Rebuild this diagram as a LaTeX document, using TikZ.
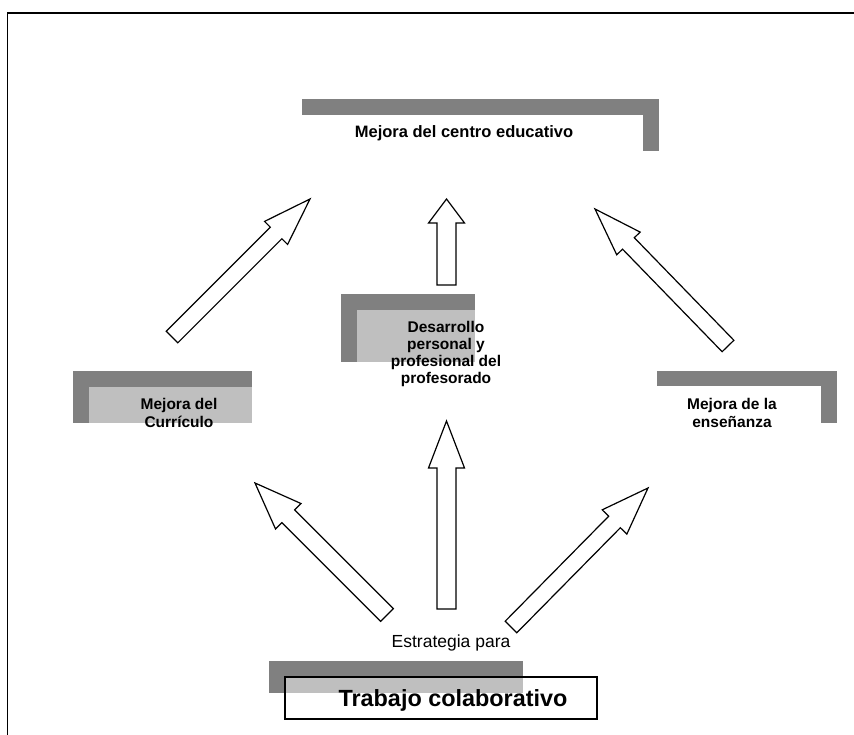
\documentclass[tikz,border=0pt]{standalone}
\usepackage{fontspec}
\setmainfont{Liberation Sans}
\usetikzlibrary{calc}

% block arrow: tail, tip, half shaft width, half head width, head length
\newcommand{\blockarrow}[5]{%
  \coordinate (#2-neck) at ($(#2)!#5!(#1)$);
  \draw[arrowbox] ($(#1)!#3!90:(#2)$) -- ($(#2-neck)!#3!90:(#2)$)
    -- ($(#2-neck)!#4!90:(#2)$) -- (#2) -- ($(#2-neck)!#4!-90:(#2)$)
    -- ($(#2-neck)!#3!-90:(#2)$) -- ($(#1)!#3!-90:(#2)$) -- cycle;
}

\begin{document}
\begin{tikzpicture}[x=1pt, y=-1pt]
    	\colorlet{shadow dark}{black!50}
    	\colorlet{shadow light}{black!25}

    	\tikzset{
    		boxtext/.style={font=\bfseries\fontsize{15.5}{17.3}\selectfont, align=center},
    		arrowbox/.style={draw=black, fill=white, line width=1.2pt, line join=miter},
    	}

    	\useasboundingbox (0,0) rectangle (854,735);
    	\draw[line width=2pt] (7,13) -- (854,13); %frame
    	\draw[line width=1pt] (7,13) -- (7,735);

    	% Mejora del centro educativo
    	\fill[shadow dark] (302,99) rectangle (659,151);
    	\fill[white] (302,115) rectangle (643,152);
    	\node[boxtext, font=\bfseries\fontsize{16.5}{18}\selectfont] (centro) at (464,133) {Mejora del centro educativo};

    	% Desarrollo personal
    	\fill[shadow dark] (341,294) rectangle (475,362);
    	\fill[shadow light] (357,310) rectangle (475,362);
    	\node[boxtext] (desarrollo) at (446,354) {Desarrollo\\personal y\\profesional del\\profesorado};

    	% Curriculo
    	\fill[shadow dark] (73,371) rectangle (252,423);
    	\fill[shadow light] (89,387) rectangle (252,423);
    	\node[boxtext] (curriculo) at (179,413) {Mejora del\\Currículo};

    	% Ensenanza
    	\fill[shadow dark] (657,371) rectangle (837,423);
    	\fill[white] (657,386) rectangle (821,424);
    	\node[boxtext] (ensenanza) at (732,413) {Mejora de la\\enseñanza};

    	% Trabajo colaborativo
    	\node[font=\fontsize{17.5}{19}\selectfont] (estrategia) at (451,643) {Estrategia para};
    	\fill[shadow dark] (269,661) rectangle (523,693);
    	\fill[white] (285,677) rectangle (597,719);
    	\fill[shadow light] (285,677) rectangle (523,693);
    	\draw[line width=1.8pt] (285,677) rectangle (597,719);
    	\node[font=\bfseries\fontsize{23.4}{26}\selectfont] (trabajo) at (453,700) {Trabajo colaborativo};

    	% arrows
    	\coordinate (ul-tail) at (172,337); \coordinate (ul-tip) at (310,199);
    	\coordinate (um-tail) at (446.5,285); \coordinate (um-tip) at (446.5,199);
    	\coordinate (ur-tail) at (728,346); \coordinate (ur-tip) at (595,209);
    	\coordinate (ll-tail) at (387,615); \coordinate (ll-tip) at (255,483);
    	\coordinate (lm-tail) at (446.5,609); \coordinate (lm-tip) at (446.5,421);
    	\coordinate (lr-tail) at (511,627); \coordinate (lr-tip) at (648,488);

    	\blockarrow{ul-tail}{ul-tip}{8.2pt}{16.3pt}{48pt}
    	\blockarrow{um-tail}{um-tip}{9.5pt}{18pt}{24pt}
    	\blockarrow{ur-tail}{ur-tip}{8.2pt}{16.3pt}{48pt}
    	\blockarrow{ll-tail}{ll-tip}{9pt}{18pt}{47pt}
    	\blockarrow{lm-tail}{lm-tip}{9.5pt}{18pt}{47pt}
    	\blockarrow{lr-tail}{lr-tip}{8.2pt}{17.3pt}{47.7pt}
\end{tikzpicture}
\end{document}
